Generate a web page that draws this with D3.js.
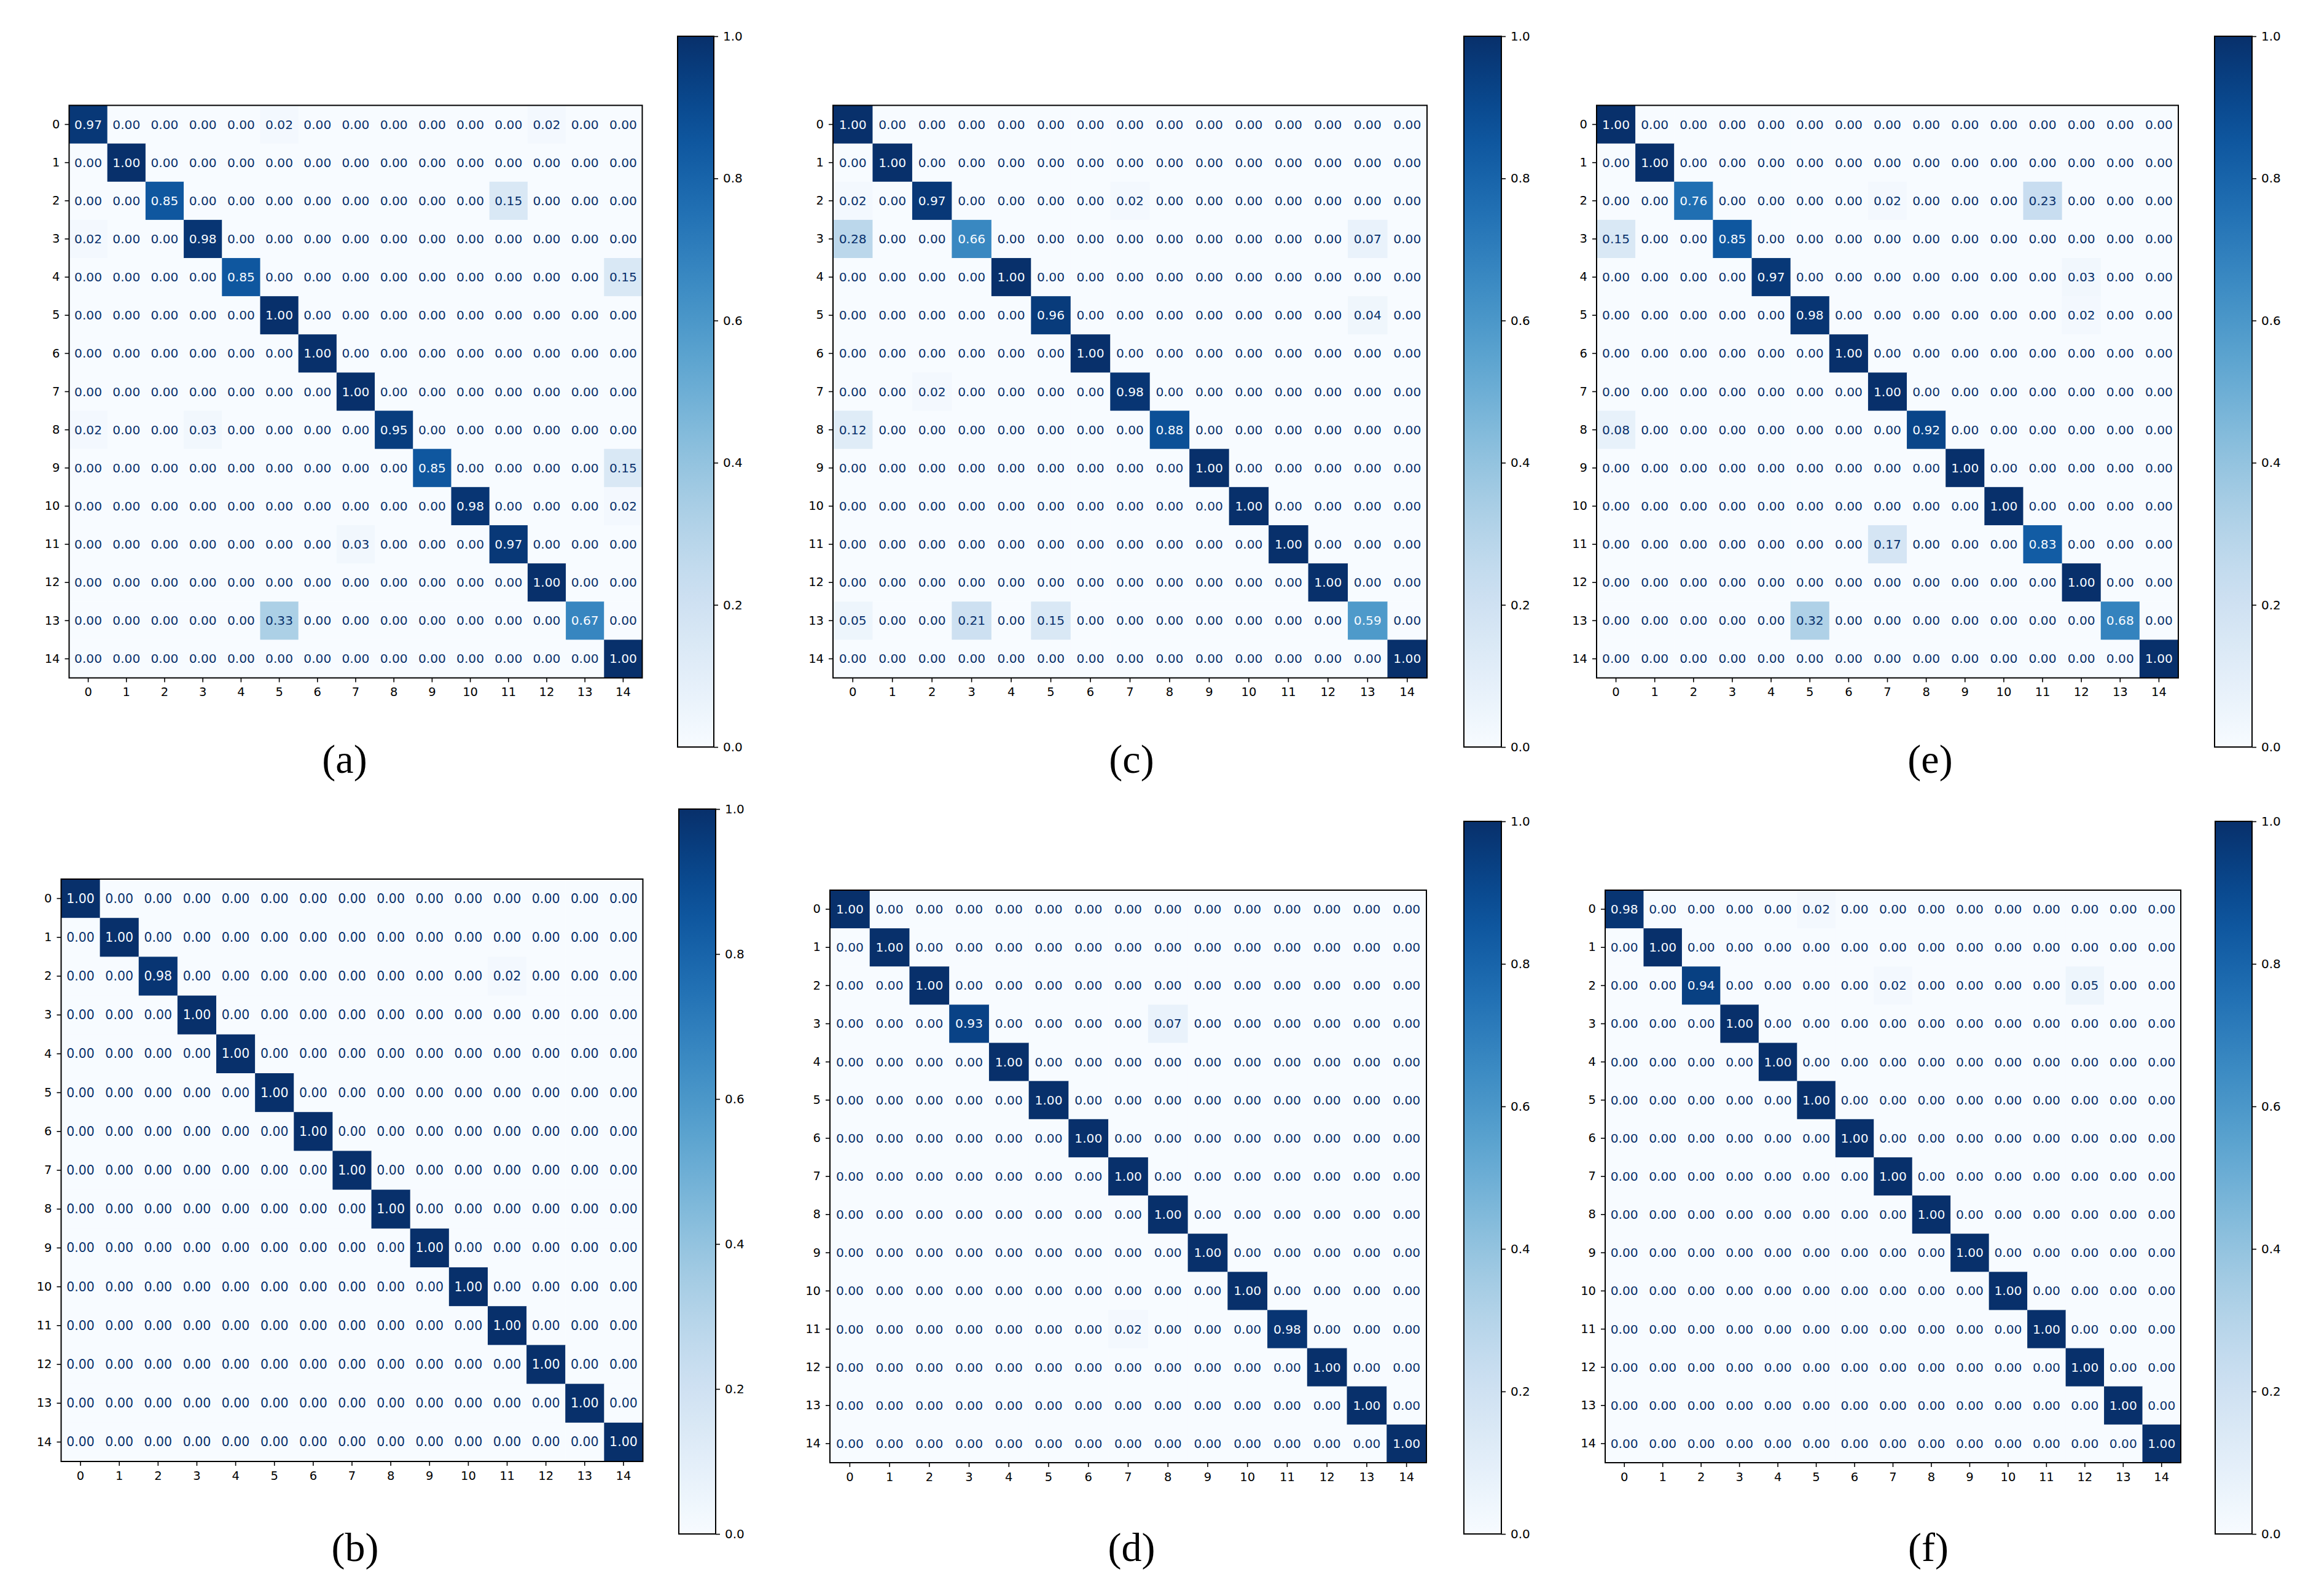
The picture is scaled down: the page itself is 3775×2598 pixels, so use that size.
<!DOCTYPE html>
<html>
<head>
<meta charset="utf-8">
<script src="https://cdn.jsdelivr.net/npm/d3@7"></script>
<style>
  body { margin: 0; background: #fff; }
  svg { display: block; }
</style>
</head>
<body>
<div id="chart"></div>
<script>
// class labels 0..14
const classLabels = ["0","1","2","3","4","5","6","7","8","9","10","11","12","13","14"];
const colorbarTicks = [0.0, 0.2, 0.4, 0.6, 0.8, 1.0];

// normalized confusion matrices (rows = true class, cols = predicted)
const matrixA = [
  [0.97,0,0,0,0,0.02,0,0,0,0,0,0,0.02,0,0],
  [0,1.00,0,0,0,0,0,0,0,0,0,0,0,0,0],
  [0,0,0.85,0,0,0,0,0,0,0,0,0.15,0,0,0],
  [0.02,0,0,0.98,0,0,0,0,0,0,0,0,0,0,0],
  [0,0,0,0,0.85,0,0,0,0,0,0,0,0,0,0.15],
  [0,0,0,0,0,1.00,0,0,0,0,0,0,0,0,0],
  [0,0,0,0,0,0,1.00,0,0,0,0,0,0,0,0],
  [0,0,0,0,0,0,0,1.00,0,0,0,0,0,0,0],
  [0.02,0,0,0.03,0,0,0,0,0.95,0,0,0,0,0,0],
  [0,0,0,0,0,0,0,0,0,0.85,0,0,0,0,0.15],
  [0,0,0,0,0,0,0,0,0,0,0.98,0,0,0,0.02],
  [0,0,0,0,0,0,0,0.03,0,0,0,0.97,0,0,0],
  [0,0,0,0,0,0,0,0,0,0,0,0,1.00,0,0],
  [0,0,0,0,0,0.33,0,0,0,0,0,0,0,0.67,0],
  [0,0,0,0,0,0,0,0,0,0,0,0,0,0,1.00]
];
const matrixB = [
  [1.00,0,0,0,0,0,0,0,0,0,0,0,0,0,0],
  [0,1.00,0,0,0,0,0,0,0,0,0,0,0,0,0],
  [0,0,0.98,0,0,0,0,0,0,0,0,0.02,0,0,0],
  [0,0,0,1.00,0,0,0,0,0,0,0,0,0,0,0],
  [0,0,0,0,1.00,0,0,0,0,0,0,0,0,0,0],
  [0,0,0,0,0,1.00,0,0,0,0,0,0,0,0,0],
  [0,0,0,0,0,0,1.00,0,0,0,0,0,0,0,0],
  [0,0,0,0,0,0,0,1.00,0,0,0,0,0,0,0],
  [0,0,0,0,0,0,0,0,1.00,0,0,0,0,0,0],
  [0,0,0,0,0,0,0,0,0,1.00,0,0,0,0,0],
  [0,0,0,0,0,0,0,0,0,0,1.00,0,0,0,0],
  [0,0,0,0,0,0,0,0,0,0,0,1.00,0,0,0],
  [0,0,0,0,0,0,0,0,0,0,0,0,1.00,0,0],
  [0,0,0,0,0,0,0,0,0,0,0,0,0,1.00,0],
  [0,0,0,0,0,0,0,0,0,0,0,0,0,0,1.00]
];
const matrixC = [
  [1.00,0,0,0,0,0,0,0,0,0,0,0,0,0,0],
  [0,1.00,0,0,0,0,0,0,0,0,0,0,0,0,0],
  [0.02,0,0.97,0,0,0,0,0.02,0,0,0,0,0,0,0],
  [0.28,0,0,0.66,0,0,0,0,0,0,0,0,0,0.07,0],
  [0,0,0,0,1.00,0,0,0,0,0,0,0,0,0,0],
  [0,0,0,0,0,0.96,0,0,0,0,0,0,0,0.04,0],
  [0,0,0,0,0,0,1.00,0,0,0,0,0,0,0,0],
  [0,0,0.02,0,0,0,0,0.98,0,0,0,0,0,0,0],
  [0.12,0,0,0,0,0,0,0,0.88,0,0,0,0,0,0],
  [0,0,0,0,0,0,0,0,0,1.00,0,0,0,0,0],
  [0,0,0,0,0,0,0,0,0,0,1.00,0,0,0,0],
  [0,0,0,0,0,0,0,0,0,0,0,1.00,0,0,0],
  [0,0,0,0,0,0,0,0,0,0,0,0,1.00,0,0],
  [0.05,0,0,0.21,0,0.15,0,0,0,0,0,0,0,0.59,0],
  [0,0,0,0,0,0,0,0,0,0,0,0,0,0,1.00]
];
const matrixD = [
  [1.00,0,0,0,0,0,0,0,0,0,0,0,0,0,0],
  [0,1.00,0,0,0,0,0,0,0,0,0,0,0,0,0],
  [0,0,1.00,0,0,0,0,0,0,0,0,0,0,0,0],
  [0,0,0,0.93,0,0,0,0,0.07,0,0,0,0,0,0],
  [0,0,0,0,1.00,0,0,0,0,0,0,0,0,0,0],
  [0,0,0,0,0,1.00,0,0,0,0,0,0,0,0,0],
  [0,0,0,0,0,0,1.00,0,0,0,0,0,0,0,0],
  [0,0,0,0,0,0,0,1.00,0,0,0,0,0,0,0],
  [0,0,0,0,0,0,0,0,1.00,0,0,0,0,0,0],
  [0,0,0,0,0,0,0,0,0,1.00,0,0,0,0,0],
  [0,0,0,0,0,0,0,0,0,0,1.00,0,0,0,0],
  [0,0,0,0,0,0,0,0.02,0,0,0,0.98,0,0,0],
  [0,0,0,0,0,0,0,0,0,0,0,0,1.00,0,0],
  [0,0,0,0,0,0,0,0,0,0,0,0,0,1.00,0],
  [0,0,0,0,0,0,0,0,0,0,0,0,0,0,1.00]
];
const matrixE = [
  [1.00,0,0,0,0,0,0,0,0,0,0,0,0,0,0],
  [0,1.00,0,0,0,0,0,0,0,0,0,0,0,0,0],
  [0,0,0.76,0,0,0,0,0.02,0,0,0,0.23,0,0,0],
  [0.15,0,0,0.85,0,0,0,0,0,0,0,0,0,0,0],
  [0,0,0,0,0.97,0,0,0,0,0,0,0,0.03,0,0],
  [0,0,0,0,0,0.98,0,0,0,0,0,0,0.02,0,0],
  [0,0,0,0,0,0,1.00,0,0,0,0,0,0,0,0],
  [0,0,0,0,0,0,0,1.00,0,0,0,0,0,0,0],
  [0.08,0,0,0,0,0,0,0,0.92,0,0,0,0,0,0],
  [0,0,0,0,0,0,0,0,0,1.00,0,0,0,0,0],
  [0,0,0,0,0,0,0,0,0,0,1.00,0,0,0,0],
  [0,0,0,0,0,0,0,0.17,0,0,0,0.83,0,0,0],
  [0,0,0,0,0,0,0,0,0,0,0,0,1.00,0,0],
  [0,0,0,0,0,0.32,0,0,0,0,0,0,0,0.68,0],
  [0,0,0,0,0,0,0,0,0,0,0,0,0,0,1.00]
];
const matrixF = [
  [0.98,0,0,0,0,0.02,0,0,0,0,0,0,0,0,0],
  [0,1.00,0,0,0,0,0,0,0,0,0,0,0,0,0],
  [0,0,0.94,0,0,0,0,0.02,0,0,0,0,0.05,0,0],
  [0,0,0,1.00,0,0,0,0,0,0,0,0,0,0,0],
  [0,0,0,0,1.00,0,0,0,0,0,0,0,0,0,0],
  [0,0,0,0,0,1.00,0,0,0,0,0,0,0,0,0],
  [0,0,0,0,0,0,1.00,0,0,0,0,0,0,0,0],
  [0,0,0,0,0,0,0,1.00,0,0,0,0,0,0,0],
  [0,0,0,0,0,0,0,0,1.00,0,0,0,0,0,0],
  [0,0,0,0,0,0,0,0,0,1.00,0,0,0,0,0],
  [0,0,0,0,0,0,0,0,0,0,1.00,0,0,0,0],
  [0,0,0,0,0,0,0,0,0,0,0,1.00,0,0,0],
  [0,0,0,0,0,0,0,0,0,0,0,0,1.00,0,0],
  [0,0,0,0,0,0,0,0,0,0,0,0,0,1.00,0],
  [0,0,0,0,0,0,0,0,0,0,0,0,0,0,1.00]
];

const panelLetters = ["(a)", "(b)", "(c)", "(d)", "(e)", "(f)"];

const W = 3775, H = 2598;

// layout of each panel: matrix box, colorbar box, caption
const layout = [
  { m: matrixA, label: panelLetters[0], x0: 112.5, x1: 1045.5, y0: 171.5, y1: 1103.5, cb: [1103, 1162, 59, 1216], lx: 561, ly: 1258 },
  { m: matrixB, label: panelLetters[1], x0: 99.5, x1: 1046.5, y0: 1431, y1: 2379, cb: [1105, 1165, 1317, 2497], lx: 578, ly: 2541 },
  { m: matrixC, label: panelLetters[2], x0: 1356, x1: 2323, y0: 171.5, y1: 1103.5, cb: [2383, 2444, 59, 1216], lx: 1842, ly: 1258 },
  { m: matrixD, label: panelLetters[3], x0: 1351, x1: 2322, y0: 1449, y1: 2381, cb: [2383, 2444, 1337, 2497], lx: 1842, ly: 2541 },
  { m: matrixE, label: panelLetters[4], x0: 2599, x1: 3546, y0: 171.5, y1: 1103.5, cb: [3605, 3666, 59, 1216], lx: 3142, ly: 1258 },
  { m: matrixF, label: panelLetters[5], x0: 2613, x1: 3550, y0: 1449, y1: 2381, cb: [3606, 3666, 1337, 2497], lx: 3139, ly: 2541 }
];

const color = d3.scaleSequential(d3.interpolateBlues).domain([0, 1]);
const textDark = color(1), textLight = color(0);

const svg = d3.select("#chart").append("svg")
  .attr("width", W).attr("height", H)
  .style("font-family", "'DejaVu Sans', sans-serif");

svg.append("rect").attr("width", W).attr("height", H).attr("fill", "#fff");

// shared gradient for colorbars
const grad = svg.append("defs").append("linearGradient")
  .attr("id", "blues").attr("x1", 0).attr("y1", 1).attr("x2", 0).attr("y2", 0);
d3.range(0, 1.0001, 0.05).forEach(t => {
  grad.append("stop").attr("offset", t).attr("stop-color", color(t));
});

layout.forEach(p => {
  const g = svg.append("g");
  const x = d3.scaleBand().domain(classLabels).range([p.x0, p.x1]);
  const y = d3.scaleBand().domain(classLabels).range([p.y0, p.y1]);
  const cells = [];
  p.m.forEach((row, i) => row.forEach((v, j) => cells.push({ r: classLabels[i], c: classLabels[j], v })));

  g.selectAll("rect.cell").data(cells).join("rect")
    .attr("class", "cell")
    .attr("x", d => x(d.c)).attr("y", d => y(d.r))
    .attr("width", x.bandwidth() + 0.5).attr("height", y.bandwidth() + 0.5)
    .attr("fill", d => color(d.v));

  const fs = Math.min(x.bandwidth(), y.bandwidth()) * 0.325;
  g.selectAll("text.val").data(cells).join("text")
    .attr("class", "val")
    .attr("x", d => x(d.c) + x.bandwidth() / 2)
    .attr("y", d => y(d.r) + y.bandwidth() / 2)
    .attr("text-anchor", "middle").attr("dominant-baseline", "central")
    .attr("font-size", fs)
    .attr("fill", d => d.v < 0.5 ? textDark : textLight)
    .text(d => d.v.toFixed(2));

  // frame
  g.append("rect")
    .attr("x", p.x0).attr("y", p.y0)
    .attr("width", p.x1 - p.x0).attr("height", p.y1 - p.y0)
    .attr("fill", "none").attr("stroke", "#000").attr("stroke-width", 2);

  const xAxis = g.append("g").attr("transform", `translate(0,${p.y1})`)
    .call(d3.axisBottom(x).tickSize(7).tickPadding(9).tickSizeOuter(0));
  const yAxis = g.append("g").attr("transform", `translate(${p.x0},0)`)
    .call(d3.axisLeft(y).tickSize(7).tickPadding(8).tickSizeOuter(0));
  [xAxis, yAxis].forEach(a => {
    a.select(".domain").remove();
    a.selectAll("line").attr("stroke", "#000").attr("stroke-width", 1.6);
    a.selectAll("text").attr("font-size", 19.5).attr("fill", "#000")
      .style("font-family", "'DejaVu Sans', sans-serif");
  });

  // colorbar
  const [cx0, cx1, cy0, cy1] = p.cb;
  g.append("rect")
    .attr("x", cx0).attr("y", cy0).attr("width", cx1 - cx0).attr("height", cy1 - cy0)
    .attr("fill", "url(#blues)").attr("stroke", "#000").attr("stroke-width", 2);
  const cs = d3.scaleLinear().domain([0, 1]).range([cy1, cy0]);
  const cAxis = g.append("g").attr("transform", `translate(${cx1},0)`)
    .call(d3.axisRight(cs).tickValues(colorbarTicks).tickFormat(d3.format(".1f"))
      .tickSize(7).tickPadding(8).tickSizeOuter(0));
  cAxis.select(".domain").remove();
  cAxis.selectAll("line").attr("stroke", "#000").attr("stroke-width", 1.6);
  cAxis.selectAll("text").attr("font-size", 20).attr("fill", "#000")
    .style("font-family", "'DejaVu Sans', sans-serif");

  // caption
  svg.append("text")
    .attr("x", p.lx).attr("y", p.ly)
    .attr("text-anchor", "middle")
    .attr("font-size", 66)
    .style("font-family", "'Liberation Serif', 'Times New Roman', serif")
    .attr("fill", "#000")
    .text(p.label);
});
</script>
</body>
</html>
